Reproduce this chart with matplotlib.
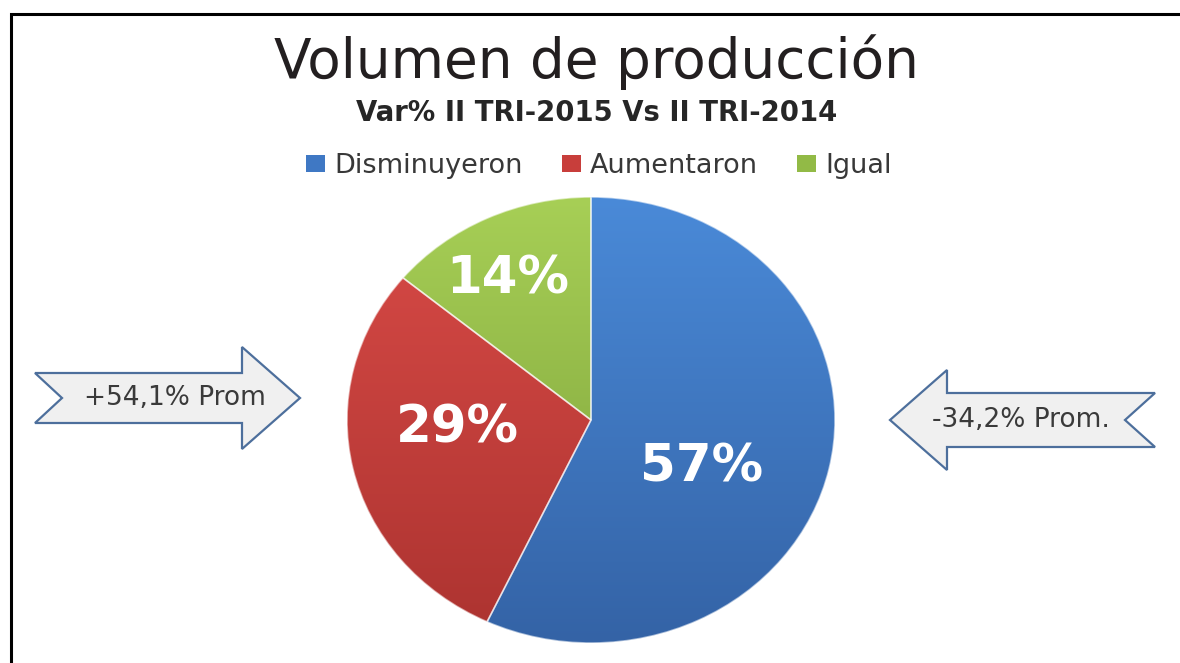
import matplotlib.pyplot as plt
import numpy as np
from matplotlib.patches import Polygon, Patch
from matplotlib.colors import LinearSegmentedColormap

plt.rcParams["font.family"] = ["DejaVu Sans"]

# data
title = "Volumen de producción"
subtitle = "Var% II TRI-2015 Vs II TRI-2014"
categories = ["Disminuyeron", "Aumentaron", "Igual"]
shares = [57, 29, 14]
arrow_texts = ["+54,1% Prom", "-34,2% Prom."]

# styling
colors_top = ["#4A8AD8", "#D94B47", "#A7CF56"]
colors_bottom = ["#3463A6", "#AC3330", "#7A9E38"]
colors_mid = ["#3F78C4", "#C83E3B", "#92BA46"]
label_pos = [(0.455, -0.215), (-0.549, -0.036), (-0.34, 0.628)]

W, H = 1180, 663
fig = plt.figure(figsize=(W / 100, H / 100), dpi=100)

# overlay in pixel coordinates for frame, titles, legend and arrows
ov = fig.add_axes([0, 0, 1, 1])
ov.set_xlim(0, W)
ov.set_ylim(H, 0)
ov.axis("off")

# pie (slightly elliptical, like the original)
ax = fig.add_axes([347 / W, 1 - 643 / H, 488 / W, 446 / H])
wedges, _ = ax.pie(shares, startangle=90, counterclock=False, colors=colors_mid,
                   wedgeprops=dict(edgecolor=(1, 1, 1, 0.55), linewidth=1.2))
grad = np.linspace(0, 1, 256).reshape(-1, 1)
for w, c0, c1 in zip(wedges, colors_bottom, colors_top):
    cmap = LinearSegmentedColormap.from_list("g", [c0, c1])
    im = ax.imshow(grad, extent=(-1, 1, -1, 1), origin="lower", cmap=cmap,
                   aspect="auto", zorder=2)
    im.set_clip_path(w)
    w.set_facecolor("none")
    w.set_zorder(3)
ax.set_aspect("auto")
ax.set_xlim(-1, 1)
ax.set_ylim(-1, 1)
ax.axis("off")

for s, (x, y) in zip(shares, label_pos):
    ax.text(x, y, f"{s}%", color="white", fontsize=37, fontweight="bold",
            ha="center", va="center", zorder=4)

# frame (left and top only are visible in the crop)
ov.plot([10.5, 10.5, W + 5], [H + 5, 13.5, 13.5], color="black", lw=2.2,
        solid_joinstyle="miter")

# titles
ov.text(596, 78, title, ha="center", va="baseline", fontsize=39.5, color="#231F20")
ov.text(597, 121, subtitle, ha="center", va="baseline", fontsize=19.8,
        fontweight="bold", color="#262626")

# legend
handles = [Patch(facecolor=c, edgecolor="none") for c in colors_mid]
ov.legend(handles, categories, loc="center", bbox_to_anchor=(599, 166),
          bbox_transform=ov.transData, ncol=3, frameon=False, fontsize=19.5,
          handlelength=0.7, handleheight=0.64, handletextpad=0.35,
          columnspacing=1.45, labelcolor="#383838", borderpad=0)


def notched_arrow(tail_x, tip_x, yc, shaft_h, head_h, head_len, notch):
    s = 1 if tip_x > tail_x else -1
    base = tip_x - s * head_len
    return [(tail_x, yc - shaft_h / 2), (base, yc - shaft_h / 2),
            (base, yc - head_h / 2), (tip_x, yc), (base, yc + head_h / 2),
            (base, yc + shaft_h / 2), (tail_x, yc + shaft_h / 2),
            (tail_x + s * notch, yc)]


arrows = [notched_arrow(35, 300, 398, 50, 102, 58, 27),
          notched_arrow(1155, 890, 420, 54, 100, 57, 30)]
text_xy = [(175, 398), (1021, 420)]
for pts, txt, (tx, ty) in zip(arrows, arrow_texts, text_xy):
    ov.add_patch(Polygon(pts, closed=True, facecolor="#F0F0F0",
                         edgecolor="#4D6F9C", lw=1.6))
    ov.text(tx, ty, txt, ha="center", va="center", fontsize=19, color="#3A3A3A")

fig.savefig("out.png", dpi=100)
